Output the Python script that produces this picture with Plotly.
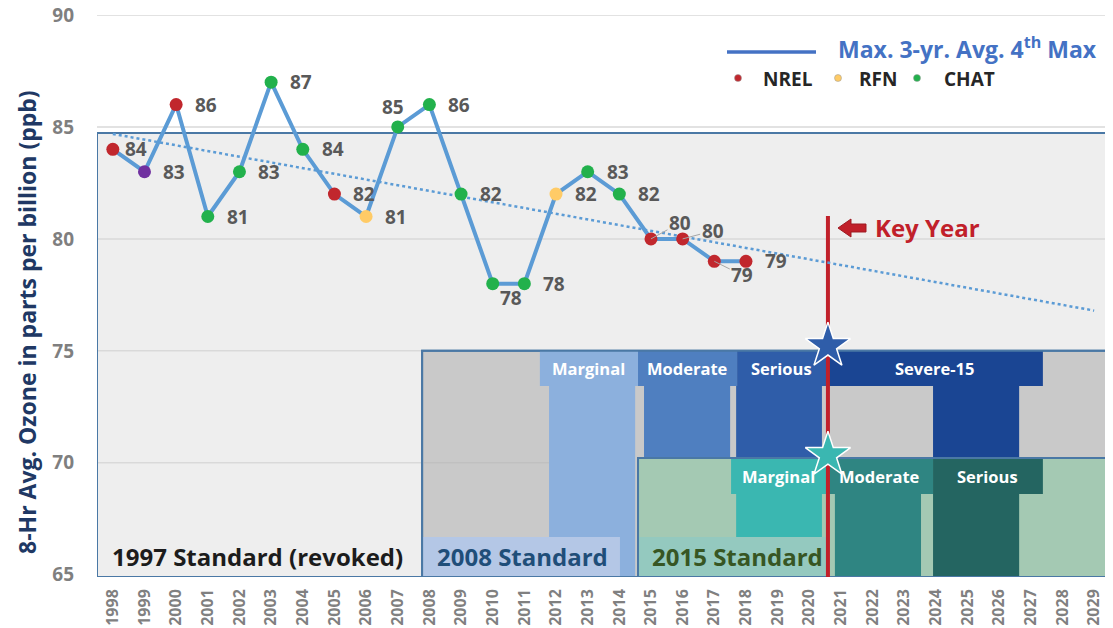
import numpy as np
import plotly.graph_objects as go

# ---------------- data ----------------
years = list(range(1998, 2019))
ozone = [84, 83, 86, 81, 83, 87, 84, 82, 81, 85, 86, 82, 78, 78, 82, 83, 82, 80, 80, 79, 79]
monitor = ["NREL", "Other", "NREL", "CHAT", "CHAT", "CHAT", "CHAT", "NREL", "RFN", "CHAT",
           "CHAT", "CHAT", "CHAT", "CHAT", "RFN", "CHAT", "CHAT", "NREL", "NREL", "NREL", "NREL"]
axis_years = list(range(1998, 2030))
y_ticks = [65, 70, 75, 80, 85, 90]
key_year = 2020.59
legend_sites = ["NREL", "RFN", "CHAT"]

# classification periods: (label, x0 header, x1 header, x0 col, x1 col, colour)
periods_2008 = [
    ("Marginal", 2011.49, 2014.59, 2011.78, 2014.50, "#8cb0dd"),
    ("Moderate", 2014.59, 2017.72, 2014.78, 2017.50, "#4f7fc0"),
    ("Serious", 2017.72, 2020.53, 2017.69, 2020.40, "#2f5da9"),
    ("Severe-15", 2020.53, 2027.38, 2023.91, 2026.63, "#1a4593"),
]
periods_2015 = [
    ("Marginal", 2017.53, 2020.53, 2017.69, 2020.40, "#3ab7b1"),
    ("Moderate", 2020.53, 2023.91, 2020.81, 2023.53, "#2f8582"),
    ("Serious", 2023.91, 2027.38, 2023.91, 2026.63, "#246561"),
]

# ---------------- styles ----------------
site_colors = {"NREL": "#c1272d", "RFN": "#ffcb66", "CHAT": "#22b14c", "Other": "#7030a0"}
FONT = "Open Sans"
LBL = "#595959"
BORDER = "#4a78a5"
X0, X1 = 1997.5, 2029.5
Y0, Y1 = 64.9, 90

# page body offset compensation (8 px)
OFF = 8

def px(X):
    return (X - 97) / 1013.0

def py(Y):
    return (577 - Y) / 562.0

fig = go.Figure()

# trend line (least squares of the series)
coef = np.polyfit(years, ozone, 1)
fig.add_trace(go.Scatter(x=[axis_years[0], axis_years[-1]],
                         y=list(np.polyval(coef, [axis_years[0], axis_years[-1]])),
                         mode="lines", line=dict(color="#5b9bd5", width=2.5, dash="dot"),
                         hoverinfo="skip", showlegend=False))

fig.add_trace(go.Scatter(x=years, y=ozone, mode="lines+markers",
                         line=dict(color="#5b9bd5", width=4),
                         marker=dict(size=13, color=[site_colors[m] for m in monitor], line=dict(width=0)),
                         showlegend=False, cliponaxis=False))

# stars
fig.add_trace(go.Scatter(x=[key_year, key_year], y=[75.22, 70.35], mode="markers",
                         marker=dict(symbol="star", size=34, color=["#2f5da9", "#3ab7b1"],
                                     line=dict(color="white", width=1.5)),
                         showlegend=False, cliponaxis=False, hoverinfo="skip"))

shapes = []

def rect(x0, x1, y0, y1, fill, line=None, lw=0):
    shapes.append(dict(type="rect", xref="x", yref="y", x0=x0, x1=x1, y0=y0, y1=y1,
                       fillcolor=fill, line=dict(color=line or fill, width=lw), layer="below"))

def hline(y, x0, x1, color="#d9d9d9", w=1.5):
    shapes.append(dict(type="line", xref="x", yref="y", x0=x0, x1=x1, y0=y, y1=y,
                       line=dict(color=color, width=w), layer="below"))

# gridlines above box region
hline(90, X0, X1)
hline(85, X0, X1)
# 1997 box
rect(X0, X1, Y0, 84.73, "#eeeeee", BORDER, 2)
hline(80, X0, X1)
hline(75, X0, X1)
hline(70, X0, X1)
# 2008 box
rect(2007.77, X1, Y0, 75.0, "#c9c9c9", BORDER, 2)
hline(70, 2007.77, 2011.78, "#bdbdbd", 1)
for name, hx0, hx1, cx0, cx1, col in periods_2008:
    rect(cx0, cx1, Y0, 73.43, col)
    rect(hx0, hx1, 73.43, 75.0, col)
rect(2007.80, 2014.02, Y0 + 0.05, 66.69, "#b4c7e6")
# 2015 box
rect(2014.59, X1, Y0, 70.21, "#a4c9b3", BORDER, 2)
for name, hx0, hx1, cx0, cx1, col in periods_2015:
    rect(cx0, cx1, Y0, 68.61, col)
    rect(hx0, hx1, 68.61, 70.21, col)
rect(2014.62, 2020.53, Y0 + 0.05, 66.69, "#94c9bf")
# box outlines on top
for bx0, by1 in [(X0, 84.73), (2007.77, 75.0), (2014.59, 70.21)]:
    shapes.append(dict(type="rect", xref="x", yref="y", x0=bx0, x1=X1, y0=Y0, y1=by1,
                       fillcolor="rgba(0,0,0,0)", line=dict(color=BORDER, width=2), layer="below"))
# key year line
shapes.append(dict(type="line", xref="x", yref="y", x0=key_year, x1=key_year, y0=64.86, y1=81.02,
                   line=dict(color="#c1202a", width=4), layer="below"))

# legend line and dots
shapes.append(dict(type="line", xref="paper", yref="paper", x0=px(727), x1=px(816), y0=py(52), y1=py(52),
                   line=dict(color="#4472c4", width=3.5)))
for site, X in zip(legend_sites, [738, 838, 917]):
    shapes.append(dict(type="circle", xref="paper", yref="paper", xsizemode="pixel", ysizemode="pixel",
                       xanchor=px(X), yanchor=py(78), x0=-3.5, x1=3.5, y0=-3.5, y1=3.5,
                       fillcolor=site_colors[site], line=dict(color="#999999", width=0.5)))

# key year block arrow
pts = [(838, 228), (851, 219), (851, 224), (866, 224), (866, 232), (851, 232), (851, 237)]
path = "M " + " L ".join(f"{px(a):.5f},{py(b):.5f}" for a, b in pts) + " Z"
shapes.append(dict(type="path", xref="paper", yref="paper", path=path,
                   fillcolor="#c1202a", line=dict(color="#9e1a22", width=1)))

annotations = []

# data labels: (dx, dy, anchor, leader)
label_pos = {1998: (10, 0, "left", False), 2007: (-5, 20, "center", False),
             2010: (18, -14, "center", False), 2015: (29, 16, "center", True),
             2016: (30, 8, "center", True), 2017: (28, -14, "center", True)}
for yr, v in zip(years, ozone):
    dx, dy, anc, leader = label_pos.get(yr, (17, 0, "left", False))
    f = dict(family=FONT, size=19, color=LBL, weight="bold")
    if leader:
        annotations.append(dict(x=yr, y=v, xref="x", yref="y", text=str(v), showarrow=True,
                                ax=dx, ay=-dy, arrowhead=0, arrowwidth=1, arrowcolor="#a6a6a6",
                                standoff=0, font=f))
    else:
        annotations.append(dict(x=yr, y=v, xref="x", yref="y", text=str(v), showarrow=False,
                                xanchor=anc, xshift=dx, yshift=dy, font=f))

# period labels
for plist, yc in [(periods_2008, 74.22), (periods_2015, 69.41)]:
    for name, hx0, hx1, cx0, cx1, col in plist:
        annotations.append(dict(x=(hx0 + hx1) / 2, y=yc, xref="x", yref="y", text=name, showarrow=False,
                                font=dict(family=FONT, size=16.5, color="white", weight="bold")))

# standard labels
for txt, X, col in [("1997 Standard (revoked)", 110, "#1c1c1c"), ("2008 Standard", 435, "#1f4e79"),
                    ("2015 Standard", 650, "#375623")]:
    annotations.append(dict(x=px(X), y=py(556), xref="paper", yref="paper", text=txt, showarrow=False,
                            xanchor="left", yanchor="middle",
                            font=dict(family=FONT, size=24, color=col, weight="bold")))

# key year text
annotations.append(dict(x=px(873), y=py(228), xref="paper", yref="paper", text="Key Year", showarrow=False,
                        xanchor="left", yanchor="middle",
                        font=dict(family=FONT, size=24, color="#c1202a", weight="bold")))

# legend texts
annotations.append(dict(x=px(836), y=py(48), xref="paper", yref="paper",
                        text="Max. 3-yr. Avg. 4<sup>th</sup> Max", showarrow=False,
                        xanchor="left", yanchor="middle",
                        font=dict(family=FONT, size=23, color="#4472c4", weight="bold")))
for site, X in zip(legend_sites, [761, 857, 942]):
    annotations.append(dict(x=px(X), y=py(79), xref="paper", yref="paper", text=site, showarrow=False,
                            xanchor="left", yanchor="middle",
                            font=dict(family=FONT, size=19, color="#262626", weight="bold")))

# y axis title
annotations.append(dict(x=px(27), y=py(322), xref="paper", yref="paper", textangle=-90,
                        text="8-Hr Avg. Ozone in parts per billion (ppb)", showarrow=False,
                        xanchor="center", yanchor="middle",
                        font=dict(family=FONT, size=23, color="#203864", weight="bold")))

fig.update_layout(
    width=1113, height=628,
    margin=dict(l=97 - OFF, r=3 + OFF, t=15 - OFF, b=51 + OFF),
    paper_bgcolor="white", plot_bgcolor="white",
    shapes=shapes, annotations=annotations, showlegend=False,
    xaxis=dict(range=[X0, X1], tickvals=axis_years, ticktext=[str(y) for y in axis_years],
               tickangle=-90, showgrid=False, zeroline=False, showline=False, automargin=False,
               ticklabelstandoff=8, ticklabeloverflow="allow",
               tickfont=dict(family=FONT, size=16, color="#808080", weight="bold")),
    yaxis=dict(range=[Y0, Y1], tickvals=y_ticks, showgrid=False, zeroline=False, showline=False,
               automargin=False, ticklabelstandoff=22, ticklabeloverflow="allow",
               tickfont=dict(family=FONT, size=19, color="#7f7f7f", weight="bold")),
)

fig.write_html("out.html")
